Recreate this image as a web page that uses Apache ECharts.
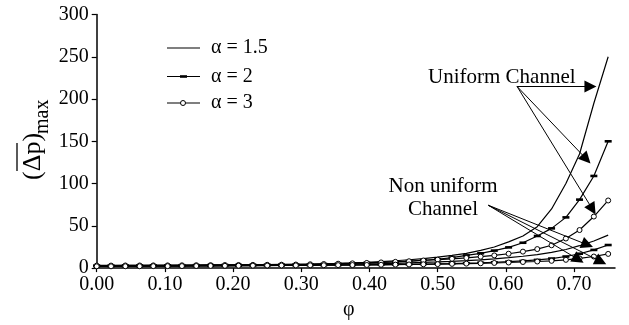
<!DOCTYPE html>
<html>
<head>
<meta charset="utf-8">
<script src="https://cdn.jsdelivr.net/npm/echarts@6/dist/echarts.min.js"></script>
<style>
  html, body { margin: 0; padding: 0; background: #fff; }
  #chart { width: 629px; height: 325px; }
</style>
</head>
<body>
<div id="chart"></div>
<script>
// Volume fraction φ sampled along the x axis
const phi = [0.000, 0.021, 0.042, 0.063, 0.083, 0.104, 0.125, 0.146, 0.167, 0.188,
             0.208, 0.229, 0.250, 0.271, 0.292, 0.313, 0.333, 0.354, 0.375, 0.396,
             0.417, 0.438, 0.458, 0.479, 0.500, 0.521, 0.542, 0.563, 0.583, 0.604,
             0.625, 0.646, 0.667, 0.688, 0.708, 0.729, 0.750];

// Maximum pressure rise, uniform channel
const uniformA15 = [3.2, 3.2, 3.3, 3.3, 3.4, 3.4, 3.5, 3.6, 3.7, 3.8, 3.9, 4.0, 4.1, 4.3, 4.5, 4.8, 5.2, 5.6, 6.2, 6.9,
                    7.7, 8.7, 9.9, 11.3, 13, 15, 17.5, 21, 25, 31, 38, 49, 70, 100, 135, 195, 250];
const uniformA2  = [3.1, 3.1, 3.2, 3.2, 3.3, 3.3, 3.4, 3.5, 3.6, 3.7, 3.8, 3.9, 4.0, 4.1, 4.3, 4.5, 4.8, 5.2, 5.7, 6.2,
                    6.8, 7.5, 8.3, 9.3, 10.5, 12.5, 15, 17.5, 20.7, 24.5, 30, 38, 47, 60, 81, 109, 150];
const uniformA3  = [3.0, 3.0, 3.1, 3.1, 3.2, 3.2, 3.3, 3.4, 3.5, 3.6, 3.7, 3.8, 3.9, 4.0, 4.2, 4.5, 4.8, 5.2, 5.6, 6.1,
                    6.7, 7.4, 8.1, 9.0, 10, 11, 12, 13.5, 15, 17, 19.5, 22.5, 27, 35, 45, 61, 80];

// Maximum pressure rise, non uniform channel
const nonUniformA15 = [2.3, 2.3, 2.4, 2.4, 2.5, 2.5, 2.6, 2.7, 2.8, 2.9, 3.0, 3.1, 3.3, 3.5, 3.7, 3.9, 4.1, 4.4, 4.7, 5.0,
                       5.3, 5.7, 6.2, 6.7, 7.3, 8.0, 8.8, 9.8, 11, 12.3, 14, 16, 18.5, 22, 26.5, 32, 39];
const nonUniformA2  = [2.2, 2.2, 2.3, 2.3, 2.4, 2.4, 2.5, 2.6, 2.7, 2.8, 2.9, 3.0, 3.1, 3.2, 3.3, 3.4, 3.5, 3.6, 3.7, 3.9,
                       4.1, 4.3, 4.5, 4.8, 5.1, 5.4, 5.8, 6.3, 6.9, 7.6, 8.5, 9.7, 11.3, 13.7, 17, 21.5, 27.3];
const nonUniformA3  = [2.1, 2.1, 2.2, 2.2, 2.3, 2.3, 2.4, 2.5, 2.6, 2.7, 2.8, 2.9, 3.0, 3.1, 3.2, 3.3, 3.4, 3.5, 3.6, 3.7,
                       3.9, 4.1, 4.3, 4.5, 4.7, 5.0, 5.3, 5.7, 6.1, 6.6, 7.2, 7.8, 8.6, 9.8, 11.5, 13.7, 16.8];

const legendLabels = ['α = 1.5', 'α = 2', 'α = 3'];
const xTicks = [0, 0.1, 0.2, 0.3, 0.4, 0.5, 0.6, 0.7];

// Annotation arrows in data space: [start, end] as [φ, Δp]
const uniformArrowStart = [0.6164, 214.9];
const uniformArrowEnds = [[0.724, 214.9], [0.718, 129], [0.727, 69.6]];
const nonUniformArrowStart = [0.5743, 74.3];
const nonUniformArrowEnds = [[0.7195, 27.6], [0.7064, 10.1], [0.7393, 7.8]];

const FONT = '"Liberation Serif", "Times New Roman", serif';
const INK = '#000';

function pairs(values) {
  return phi.map((x, i) => [x, values[i]]);
}

const markerStyles = {
  none:   { symbol: 'none' },
  dash:   { symbol: 'rect', symbolSize: [7, 2.6], itemStyle: { color: INK } },
  circle: { symbol: 'circle', symbolSize: 5, itemStyle: { color: '#fff', borderColor: INK, borderWidth: 1 } }
};

function lineSeries(name, values, marker, extra) {
  return Object.assign({
    name: name,
    type: 'line',
    data: pairs(values),
    showSymbol: marker !== 'none',
    lineStyle: { color: INK, width: 1.2 },
    emphasis: { disabled: true },
    silent: true,
    z: 3
  }, markerStyles[marker], extra || {});
}

function arrows(start, ends) {
  return ends.map(e => [{ coord: start }, { coord: e }]);
}

const chart = echarts.init(document.getElementById('chart'));

chart.setOption({
  animation: false,
  backgroundColor: '#fff',
  grid: { left: 96.7, right: 14, top: 14.5, bottom: 53.3, containLabel: false },
  xAxis: {
    type: 'value',
    min: 0,
    max: 0.76,
    interval: 0.1,
    name: 'φ',
    nameLocation: 'middle',
    nameGap: 31,
    nameTextStyle: { fontFamily: FONT, fontSize: 20, color: INK, padding: [0, 14, 0, 0] },
    axisLine: { lineStyle: { color: INK, width: 1.5 } },
    axisTick: { show: true, inside: false, length: 4, lineStyle: { color: INK, width: 1.2 }, customValues: xTicks },
    axisLabel: {
      customValues: xTicks,
      margin: 7,
      fontFamily: FONT, fontSize: 20, color: INK,
      formatter: v => v.toFixed(2)
    },
    splitLine: { show: false }
  },
  yAxis: {
    type: 'value',
    min: 0,
    max: 300,
    interval: 50,
    axisLine: { show: true, lineStyle: { color: INK, width: 1.5 } },
    axisTick: { show: true, inside: false, length: 5, lineStyle: { color: INK, width: 1.2 } },
    axisLabel: { margin: 8, fontFamily: FONT, fontSize: 20, color: INK },
    splitLine: { show: false }
  },
  series: [
    lineSeries('uniform α=1.5', uniformA15, 'none', {
      markLine: {
        silent: true,
        symbol: ['none', 'triangle'],
        symbolSize: 12,
        label: { show: false },
        lineStyle: { color: INK, width: 1, type: 'solid' },
        emphasis: { disabled: true },
        data: arrows(uniformArrowStart, uniformArrowEnds).concat(arrows(nonUniformArrowStart, nonUniformArrowEnds))
      }
    }),
    lineSeries('uniform α=2', uniformA2, 'dash'),
    lineSeries('uniform α=3', uniformA3, 'circle'),
    lineSeries('non uniform α=1.5', nonUniformA15, 'none'),
    lineSeries('non uniform α=2', nonUniformA2, 'dash'),
    lineSeries('non uniform α=3', nonUniformA3, 'circle')
  ],
  graphic: [
    // legend
    { type: 'line', shape: { x1: 167, y1: 48, x2: 200, y2: 48 }, style: { stroke: INK, lineWidth: 1.2 } },
    { type: 'line', shape: { x1: 167, y1: 76.5, x2: 200, y2: 76.5 }, style: { stroke: INK, lineWidth: 1.2 } },
    { type: 'rect', shape: { x: 180, y: 75.2, width: 7, height: 2.6 }, style: { fill: INK } },
    { type: 'line', shape: { x1: 167, y1: 103, x2: 200, y2: 103 }, style: { stroke: INK, lineWidth: 1.2 } },
    { type: 'circle', shape: { cx: 183, cy: 103, r: 2.5 }, style: { fill: '#fff', stroke: INK, lineWidth: 1 } },
    { type: 'text', x: 211, y: 48, style: { text: legendLabels[0], font: '20px ' + FONT, fill: INK, verticalAlign: 'middle' } },
    { type: 'text', x: 211, y: 76.5, style: { text: legendLabels[1], font: '20px ' + FONT, fill: INK, verticalAlign: 'middle' } },
    { type: 'text', x: 211, y: 103, style: { text: legendLabels[2], font: '20px ' + FONT, fill: INK, verticalAlign: 'middle' } },
    // annotations
    { type: 'text', x: 428, y: 77, style: { text: 'Uniform Channel', font: '21px ' + FONT, fill: INK, verticalAlign: 'middle' } },
    { type: 'text', x: 443, y: 186, style: { text: 'Non uniform', font: '21px ' + FONT, fill: INK, align: 'center', verticalAlign: 'middle' } },
    { type: 'text', x: 443, y: 209, style: { text: 'Channel', font: '21px ' + FONT, fill: INK, align: 'center', verticalAlign: 'middle' } },
    // y axis title: (Δp) with overline, subscript max
    {
      type: 'group', x: 33, y: 180, rotation: Math.PI / 2,
      children: [
        { type: 'text', x: 0, y: 0, style: { text: '(Δp)', font: '26px ' + FONT, fill: INK, verticalAlign: 'middle' } },
        { type: 'text', x: 46, y: 10, style: { text: 'max', font: '20px ' + FONT, fill: INK, verticalAlign: 'middle' } },
        { type: 'line', shape: { x1: 9, y1: -16, x2: 37, y2: -16 }, style: { stroke: INK, lineWidth: 1.3 } }
      ]
    }
  ]
});
</script>
</body>
</html>
